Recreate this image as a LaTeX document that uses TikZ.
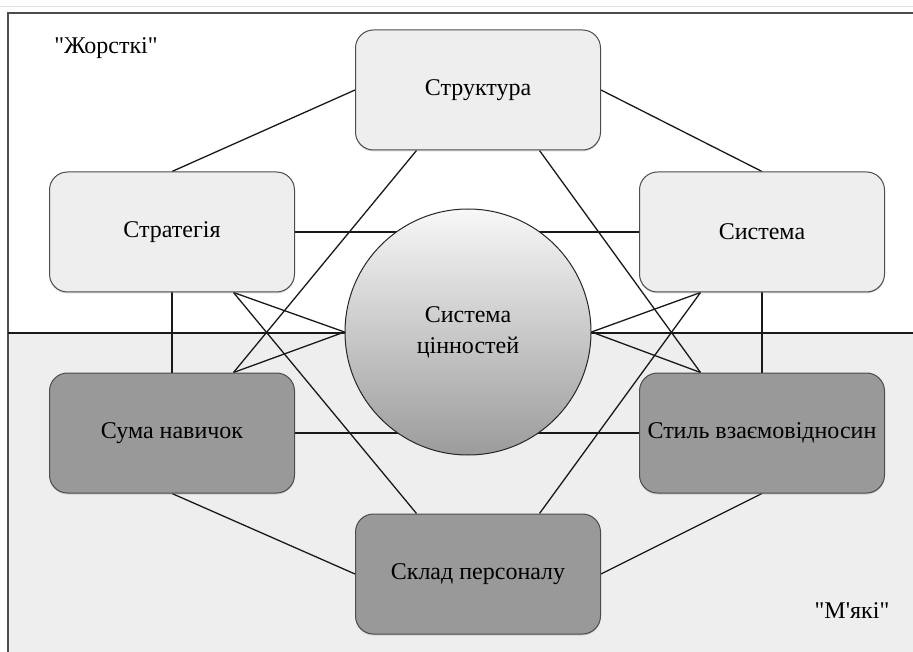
\documentclass[tikz,border=0pt]{standalone}
\usepackage{fontspec}
\setmainfont{Liberation Serif}
\newfontfamily\straightserif{Liberation Serif}[Ligatures=TeXOff]
\usetikzlibrary{calc, shadows, backgrounds}

\begin{document}
\begin{tikzpicture}[x=1pt, y=-1pt, line cap=round,
		hardbox/.style={draw=black!70, line width=1pt, rounded corners=18pt,
			fill=gray!13, minimum width=245pt, minimum height=120pt, inner sep=1pt,
			font=\rmfamily\fontsize{24}{28}\selectfont, text=black,
			drop shadow={shadow xshift=0pt, shadow yshift=-1.5pt, opacity=0.3}},
		softbox/.style={hardbox, fill=gray!80},
		valuecircle/.style={circle, draw=black!85, line width=1pt, minimum size=246pt,
			top color=gray!6, bottom color=gray!78, align=center,
			font=\rmfamily\fontsize{24}{31}\selectfont, text=black},
		link/.style={black!90, line width=1.3pt},
		zone/.style={font=\straightserif\fontsize{24}{28}\selectfont, text=black}
	]

	\useasboundingbox (0,0) rectangle (913,652);

	% the seven elements
	\node[hardbox] (struct) at (478,90) {Структура};
	\node[hardbox] (strat) at (172,232) {Стратегія};
	\node[hardbox] (syst) at (762,232) {Система};
	\node[softbox] (skills) at (172,433) {Сума навичок};
	\node[softbox] (style) at (762,433) {Стиль взаємовідносин};
	\node[softbox] (staff) at (478,574) {Склад персоналу};
	\node[valuecircle] (values) at (468,332) {Система\\цінностей};

	\node[zone] (hard) at (106,48) {"Жорсткі"};
	\node[zone] (soft) at (852,611) {"М'які"};

	\coordinate (struct-l) at ($(struct.south west)!0.25!(struct.south east)$);
	\coordinate (struct-r) at ($(struct.south west)!0.75!(struct.south east)$);
	\coordinate (strat-r) at ($(strat.south west)!0.75!(strat.south east)$);
	\coordinate (syst-l) at ($(syst.south west)!0.25!(syst.south east)$);
	\coordinate (skills-r) at ($(skills.north west)!0.75!(skills.north east)$);
	\coordinate (style-l) at ($(style.north west)!0.25!(style.north east)$);
	\coordinate (staff-l) at ($(staff.north west)!0.25!(staff.north east)$);
	\coordinate (staff-r) at ($(staff.north west)!0.75!(staff.north east)$);

	\begin{scope}[on background layer]
		\fill[gray!13] (8,333) rectangle (913,652);
		\draw[black!12, line width=0.8pt] (0,6) -- (913,6);
		\draw[black!70, line width=1.8pt] (8,652) -- (8,13) -- (913,13);
		\draw[link] (8,333) -- (913,333);

		\draw[link] (strat.north) -- (struct.west);
		\draw[link] (syst.north) -- (struct.east);
		\draw[link] (skills.south) -- (staff.west);
		\draw[link] (style.south) -- (staff.east);
		\draw[link] (strat.south) -- (skills.north);
		\draw[link] (syst.south) -- (style.north);
		\draw[link] (strat.east) -- (syst.west);
		\draw[link] (skills.east) -- (style.west);

		\draw[link] (struct-l) -- (skills-r);
		\draw[link] (struct-r) -- (style-l);
		\draw[link] (strat-r) -- (staff-l);
		\draw[link] (syst-l) -- (staff-r);

		\draw[link] (strat-r) -- (values.west) -- (skills-r);
		\draw[link] (syst-l) -- (values.east) -- (style-l);
	\end{scope}

\end{tikzpicture}
\end{document}
